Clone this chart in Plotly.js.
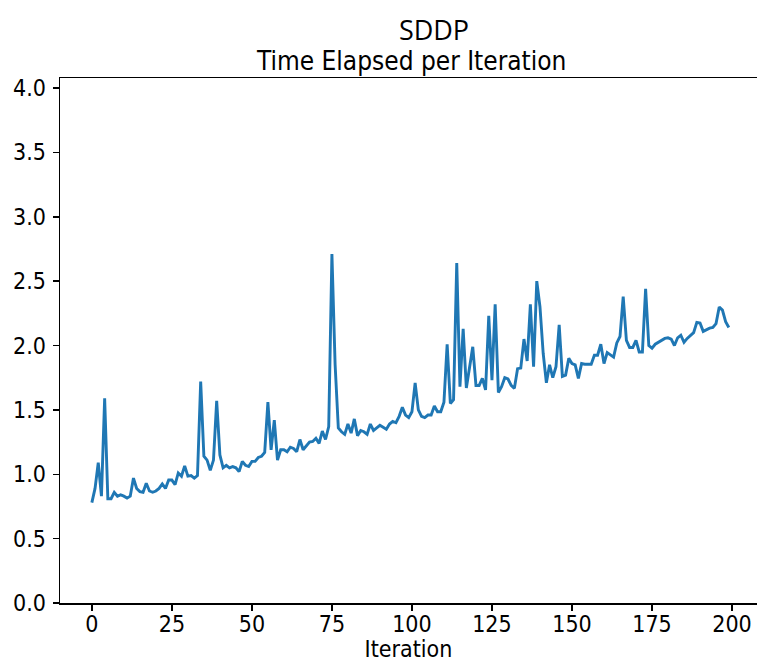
<!DOCTYPE html>
<html>
<head>
<meta charset="utf-8">
<script src="https://cdn.plot.ly/plotly-3.0.1.min.js"></script>
<style>html,body{margin:0;padding:0;background:#fff;}#chart{width:757px;height:662px;}</style>
</head>
<body>
<div id="chart"></div>
<script>
const mainTitle = "SDDP";
const subTitle = "Time Elapsed per Iteration";
const xLabel = "Iteration";
const xTicks = [0, 25, 50, 75, 100, 125, 150, 175, 200];
const yTicks = [0.0, 0.5, 1.0, 1.5, 2.0, 2.5, 3.0, 3.5, 4.0];
const timeElapsed = [
  0.78, 0.89, 1.09, 0.83, 1.59, 0.81, 0.81, 0.86, 0.83, 0.84,
  0.83, 0.815, 0.83, 0.97, 0.89, 0.865, 0.86, 0.93, 0.87, 0.86,
  0.87, 0.89, 0.925, 0.89, 0.955, 0.955, 0.92, 1.01, 0.985, 1.065,
  0.985, 0.99, 0.97, 0.99, 1.72, 1.14, 1.11, 1.03, 1.11, 1.57,
  1.15, 1.05, 1.07, 1.05, 1.06, 1.05, 1.02, 1.10, 1.07, 1.06,
  1.10, 1.10, 1.13, 1.14, 1.17, 1.56, 1.19, 1.42, 1.11, 1.19,
  1.19, 1.175, 1.21, 1.20, 1.175, 1.27, 1.19, 1.22, 1.25, 1.255,
  1.28, 1.24, 1.335, 1.27, 1.37, 2.71, 1.85, 1.36, 1.33, 1.31,
  1.39, 1.32, 1.43, 1.30, 1.34, 1.33, 1.31, 1.39, 1.34, 1.36,
  1.38, 1.365, 1.35, 1.39, 1.41, 1.40, 1.45, 1.52, 1.46, 1.44,
  1.485, 1.71, 1.50, 1.45, 1.44, 1.46, 1.46, 1.53, 1.485, 1.485,
  1.56, 2.01, 1.55, 1.58, 2.64, 1.68, 2.13, 1.67, 1.835, 1.99,
  1.69, 1.69, 1.745, 1.655, 2.23, 1.73, 2.32, 1.635, 1.68, 1.75,
  1.74, 1.69, 1.667, 1.82, 1.825, 2.05, 1.88, 2.32, 1.835, 2.50,
  2.30, 1.94, 1.71, 1.85, 1.75, 1.835, 2.16, 1.76, 1.77, 1.90,
  1.86, 1.85, 1.745, 1.86, 1.855, 1.855, 1.855, 1.925, 1.925, 2.01,
  1.86, 1.945, 1.925, 1.91, 2.02, 2.07, 2.38, 2.04, 1.985, 1.985,
  2.04, 1.95, 1.95, 2.44, 2.00, 1.98, 2.01, 2.025, 2.035, 2.055,
  2.06, 2.05, 2.00, 2.06, 2.08, 2.025, 2.055, 2.08, 2.10, 2.18,
  2.175, 2.11, 2.125, 2.135, 2.14, 2.17, 2.30, 2.275, 2.185, 2.14
];
const iterations = timeElapsed.map((_, i) => i);

const tickFont = {family: "DejaVu Sans Condensed, DejaVu Sans", size: 23, color: "#000"};

const trace = {
  x: iterations,
  y: timeElapsed,
  type: "scatter",
  mode: "lines",
  line: {color: "#1f77b4", width: 2.9},
  hoverinfo: "skip"
};

const layout = {
  width: 757,
  height: 662,
  margin: {l: 60, r: 0, t: 78, b: 59, pad: 0},
  paper_bgcolor: "#fff",
  plot_bgcolor: "#fff",
  showlegend: false,
  title: {
    text: mainTitle,
    font: {family: "Liberation Sans Narrow, Open Sans", size: 27, color: "#000"},
    x: (434 - 60) / 697, xanchor: "center", xref: "paper",
    y: 1 - 31 / 662, yanchor: "middle", yref: "container"
  },
  annotations: [{
    text: subTitle,
    xref: "paper", yref: "paper",
    x: (411 - 60) / 697, y: (603 - 61) / 525,
    xanchor: "center", yanchor: "middle",
    showarrow: false,
    font: {family: "DejaVu Sans Condensed, DejaVu Sans", size: 26, color: "#000"}
  }],
  xaxis: {
    range: [-9.95, 207.8],
    tickvals: xTicks,
    ticktext: xTicks.map(String),
    ticks: "outside", ticklen: 6, tickwidth: 1.5, tickcolor: "#000",
    ticklabelstandoff: -6,
    showline: true, linecolor: "#000", linewidth: 1.5, mirror: true,
    showgrid: false, zeroline: false,
    tickfont: tickFont,
    title: {text: xLabel, font: tickFont, standoff: 12}
  },
  yaxis: {
    range: [0, 4.078],
    tickvals: yTicks,
    ticktext: yTicks.map(v => v.toFixed(1)),
    ticks: "outside", ticklen: 6, tickwidth: 1.5, tickcolor: "#000",
    ticklabelstandoff: 2,
    showline: true, linecolor: "#000", linewidth: 1.5, mirror: false,
    showgrid: false, zeroline: false,
    tickfont: tickFont
  }
};

Plotly.newPlot("chart", [trace], layout, {displayModeBar: false, staticPlot: true});
</script>
</body>
</html>
